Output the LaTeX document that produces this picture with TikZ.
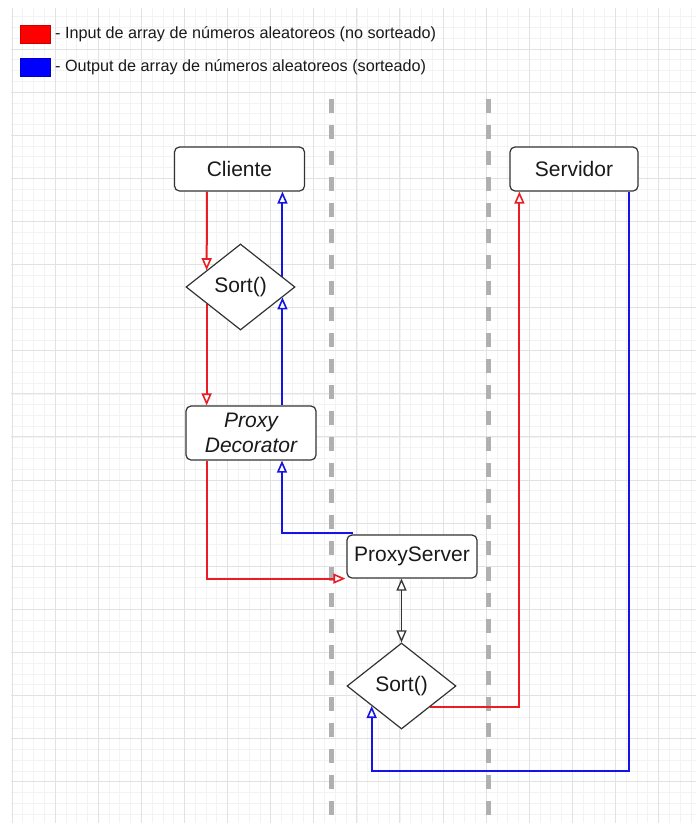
\documentclass[tikz,border=0pt]{standalone}
\usepackage{fontspec}
\setmainfont{Liberation Sans}
\usetikzlibrary{arrows.meta,shapes.geometric,calc}
\definecolor{redl}{HTML}{EC1C24}
\definecolor{bluel}{HTML}{1414E6}
\definecolor{redleg}{HTML}{FF0000}
\definecolor{blueleg}{HTML}{0000FF}
\definecolor{txt}{HTML}{1A1A1A}
\definecolor{edgec}{HTML}{333333}
\definecolor{gmin}{HTML}{F3F3F3}
\definecolor{gmaj}{HTML}{E2E2E2}
\definecolor{dashc}{HTML}{B0B0B0}
\pgfdeclarelayer{bg}
\pgfdeclarelayer{edges}
\pgfsetlayers{bg,edges,main}
\tikzset{
  boxnode/.style={draw=edgec, line width=1.2pt, rounded corners=5pt, fill=white,
    text=txt, font=\fontsize{21}{25}\selectfont, inner sep=0pt, align=center},
  sortnode/.style={diamond, draw=edgec, line width=1.2pt, fill=white, text=txt,
    font=\fontsize{21}{25}\selectfont, inner sep=0pt, aspect=1.27,
    minimum width=109pt, minimum height=86pt},
  tipopen/.style={-{Triangle[fill=white, length=12pt, width=10pt, line width=1.6pt]}},
  redarrow/.style={draw=redl, line width=2pt, tipopen},
  bluearrow/.style={draw=bluel, line width=2pt, tipopen},
  gridminor/.style={draw=gmin, line width=0.6pt},
  gridmajor/.style={draw=gmaj, line width=0.9pt},
  sepline/.style={draw=dashc, line width=5pt, dash pattern=on 14pt off 12pt},
  legtext/.style={anchor=west, text=txt, font=\fontsize{16.2}{19}\selectfont, inner sep=0pt},
  blacktip/.tip={Triangle[fill=white, length=12pt, width=10pt, line width=1.3pt]},
}
\begin{document}
\begin{tikzpicture}[x=1pt, y=-1pt]
\useasboundingbox (0,0) rectangle (696,825);
\begin{pgfonlayer}{bg}
\fill[white] (0,0) rectangle (696,825);
\begin{scope}
\clip (11,8) rectangle (696,823);
\foreach \k in {0,...,64} \draw[gridminor] ({12+10.775*\k},8) -- ({12+10.775*\k},823);
\foreach \k in {0,...,77} \draw[gridminor] (11,{5.9+10.775*\k}) -- (696,{5.9+10.775*\k});
\foreach \k in {0,...,16} \draw[gridmajor] ({12+43.1*\k},8) -- ({12+43.1*\k},823);
\foreach \k in {0,...,19} \draw[gridmajor] (11,{5.9+43.1*\k}) -- (696,{5.9+43.1*\k});
\end{scope}
\draw[sepline] (331.5,99) -- (331.5,825);
\draw[sepline] (488.5,99) -- (488.5,825);
\end{pgfonlayer}

% legend
\node[fill=redleg, draw=redleg!80!black, line width=0.4pt, minimum width=30pt, minimum height=18pt, inner sep=0pt] (legr) at (35,34) {};
\node[fill=blueleg, draw=blueleg!80!black, line width=0.4pt, minimum width=30pt, minimum height=18pt, inner sep=0pt] (legb) at (35,67) {};
\node[legtext] (legrt) at (55,34) {- Input de array de números aleatoreos (no sorteado)};
\node[legtext] (legbt) at (55,67) {- Output de array de números aleatoreos (sorteado)};

% nodes
\node[boxnode, minimum width=130pt, minimum height=44pt] (cli) at (239.5,169) {Cliente};
\node[boxnode, minimum width=128pt, minimum height=44pt] (srv) at (574,169) {Servidor};
\node[sortnode] (d1) at (240.5,287) {Sort()};
\node[boxnode, minimum width=130pt, minimum height=54pt, font=\fontsize{21}{25}\selectfont\itshape] (pd) at (251,433) {Proxy\\Decorator};
\node[boxnode, minimum width=130pt, minimum height=43pt] (ps) at (412,556.5) {ProxyServer};
\node[sortnode] (d2) at (401.5,686) {Sort()};

% helper coordinates
\coordinate (xl) at (207,0);
\coordinate (xr) at (282,0);
\coordinate (ybot) at (0,771);
\coordinate (d1tl) at ($(d1.north)!0.6147!(d1.west)$);
\coordinate (d1tr) at ($(d1.north)!0.7615!(d1.east)$);
\coordinate (d1bl) at ($(d1.south)!0.6147!(d1.west)$);
\coordinate (d1br) at ($(d1.south)!0.7615!(d1.east)$);
\coordinate (d2br) at ($(d2.south)!0.523!(d2.east)$);
\coordinate (d2bl) at ($(d2.south)!0.5413!(d2.west)$);
\coordinate (srvl) at ($(srv.south west)+(10,0)$);
\coordinate (srvr) at ($(srv.south east)+(-10,0)$);
\coordinate (psnw) at ($(ps.north west)+(7,-1)$);

\begin{pgfonlayer}{edges}
% input (red)
\draw[redarrow] (cli.south -| xl) -- (d1tl);
\draw[redarrow] (d1bl) -- (d1bl |- pd.north);
\draw[redarrow] (pd.south -| xl) |- ($(ps.south west)+(-1,0)$);
\draw[redarrow] (d2br) -| (srvl);
% output (blue)
\draw[bluearrow] (d1tr) -- (d1tr |- cli.south);
\draw[bluearrow] (d1br |- pd.north) -- (d1br);
\draw[bluearrow] (psnw) -| (pd.south -| xr);
\draw[bluearrow] (srvr) |- (d2bl |- ybot) -- (d2bl);
% black double arrow
\draw[draw=edgec, line width=1.3pt, {blacktip}-{blacktip}] (d2.north |- ps.south) -- (d2.north);
\end{pgfonlayer}
\end{tikzpicture}
\end{document}
